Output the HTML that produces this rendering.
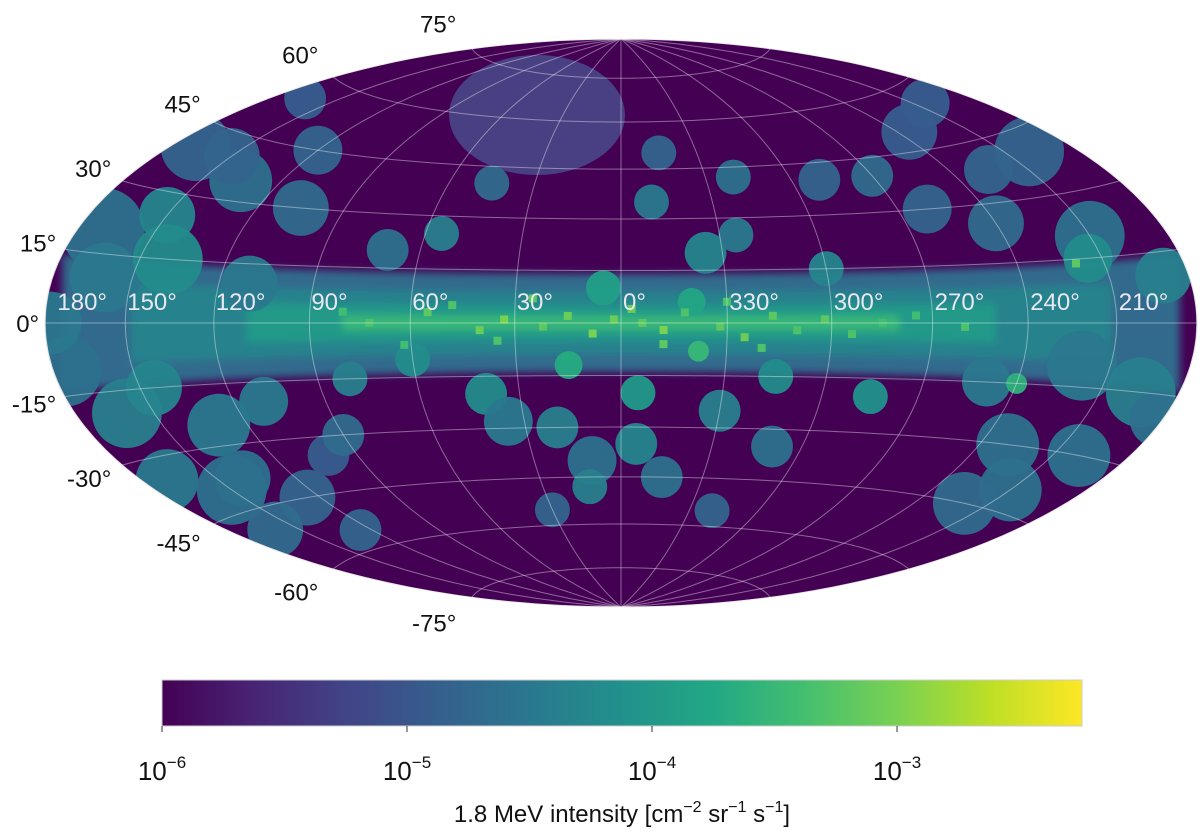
<!DOCTYPE html>
<html><head><meta charset="utf-8"><style>
body{margin:0;background:#fff;width:1200px;height:834px;overflow:hidden;font-family:"Liberation Sans",sans-serif}
</style></head><body>
<svg id="chart" width="1200" height="834" xmlns="http://www.w3.org/2000/svg" font-family="Liberation Sans, sans-serif">
<defs>
<clipPath id="clip"><ellipse cx="621" cy="323" rx="576" ry="284"/></clipPath>
<filter id="soft" x="-5%" y="-20%" width="110%" height="140%"><feGaussianBlur stdDeviation="4"/></filter>
<linearGradient id="vir" x1="0" x2="1" y1="0" y2="0">
<stop offset="0" stop-color="#440154"/><stop offset="0.1" stop-color="#482475"/><stop offset="0.2" stop-color="#414487"/><stop offset="0.3" stop-color="#355f8d"/><stop offset="0.4" stop-color="#2a788e"/><stop offset="0.5" stop-color="#21918c"/><stop offset="0.6" stop-color="#22a884"/><stop offset="0.7" stop-color="#44bf70"/><stop offset="0.8" stop-color="#7ad151"/><stop offset="0.9" stop-color="#bddf26"/><stop offset="1" stop-color="#fde725"/>
</linearGradient>
</defs>
<g id="map" clip-path="url(#clip)">
<ellipse cx="621" cy="323" rx="576" ry="284" fill="#440154"/>
<g id="bands" filter="url(#soft)"></g>
<ellipse cx="537" cy="115" rx="88" ry="60" fill="#4a4a8c" opacity="0.85"/>
<g id="blobs"></g>
<g id="specks"></g>
</g>
<ellipse cx="621" cy="323" rx="576" ry="284" fill="none" stroke="#ddd" stroke-width="1"/>
<g id="grid"></g>
<g id="lonlabels" font-size="24" fill="#e8e8f0"></g>
<g id="latlabels" font-size="24" fill="#111"></g>
<rect x="162" y="680" width="920" height="46" fill="url(#vir)" stroke="#ccc"/>
<g id="cbticks"></g>
<text x="622" y="822" font-size="24" text-anchor="middle" fill="#111">1.8 MeV intensity [cm<tspan dy="-10" font-size="16">−2</tspan><tspan dy="10"> sr</tspan><tspan dy="-10" font-size="16">−1</tspan><tspan dy="10"> s</tspan><tspan dy="-10" font-size="16">−1</tspan><tspan dy="10">]</tspan></text>
</svg>
<script>
const lonTicks=[180,150,120,90,60,30,0,-30,-60,-90,-120,-150];
const lonTickLabels=["180°","150°","120°","90°","60°","30°","0°","330°","300°","270°","240°","210°"];
const latTicks=[75,60,45,30,15,0,-15,-30,-45,-60,-75];
const cbTicks=[-6,-5,-4,-3];
// sources: longitude, latitude, radius (deg), log10 intensity
const srcLon=[170,160,150,140,135,150,170,175,160,145,130,150,170,125,110,105,110,120,165,100,
 5,40,20,10,-5,30,55,70,80,60,-15,-10,-25,-35,-30,-45,-50,-60,-75,-40,-70,-15,45,-20,
 -150,-160,-140,-165,-130,-150,-120,-110,-100,-170,-125,-120,-145,178,-178,90,-90,15,-22,
 160,140,125,-140,-160,-155,-135,35,-5,12,-40];
const srcLat=[20,10,25,15,35,40,40,-10,-20,-15,-25,-40,-35,-45,-20,30,10,45,55,-35,
 10,-20,-30,-40,-20,-55,25,20,-15,-10,-45,35,20,25,-25,-15,-35,15,-20,-55,40,50,40,6,
 20,40,-10,-15,-30,-40,25,-15,30,10,50,-15,15,0,-20,-30,40,-12,-8,
 -50,-38,-55,-45,-30,55,38,-28,-35,-48,42];
const srcR=[12,10,8,10,9,8,10,10,10,8,9,10,9,8,7,8,8,7,6,6,
 5,6,6,7,5,5,5,6,5,5,6,5,6,5,6,5,6,5,5,5,6,5,5,4,
 10,10,10,10,9,9,8,7,7,8,8,3,7,9,8,6,6,4,3,
 8,8,6,9,9,7,7,7,6,5,5];
const srcLog=[-4.6,-4.5,-4.3,-4.2,-4.6,-4.8,-4.8,-4.6,-4.4,-4.3,-4.5,-4.6,-4.5,-4.8,-4.5,-4.7,-4.5,-4.8,-4.9,-4.9,
 -3.9,-4.2,-4.4,-4.6,-4.0,-4.8,-4.4,-4.6,-4.4,-4.2,-4.6,-4.5,-4.3,-4.5,-4.4,-4.2,-4.6,-4.3,-4.1,-4.8,-4.8,-4.8,-4.7,-3.8,
 -4.6,-4.8,-4.5,-4.4,-4.6,-4.6,-4.7,-4.5,-4.8,-4.4,-4.9,-3.6,-4.2,-4.5,-4.6,-4.7,-4.7,-3.7,-3.5,
 -4.7,-4.6,-4.8,-4.7,-4.6,-4.9,-4.8,-4.5,-4.3,-4.4,-4.6];
const bandHalf=[14,9,5,2];
const bandExt=[180,150,110,80];
const bandLog=[-4.7,-4.35,-4.0,-3.5];
const ptLon=[72,55,40,33,22,15,8,2,-6,-12,-18,-28,-35,-43,-50,-58,-66,-75,-85,-100,-12,35,48,-40,25,-3,62,80,-30,-140];
const ptLat=[0,3,-2,1,-1,2,-3,1,0,-2,3,-1,-4,2,-2,1,-3,0,2,-1,-6,-5,5,-7,7,4,-6,3,6,14];
const ptLog=[-3.3,-3.2,-3.1,-3.0,-3.2,-3.1,-3.0,-3.1,-3.2,-3.0,-3.3,-3.2,-3.1,-3.2,-3.3,-3.2,-3.3,-3.4,-3.4,-3.3,-3.2,-3.3,-3.3,-3.3,-3.2,-3.1,-3.4,-3.4,-3.3,-3.2];

const CX=621,CY=323,SX=203.6,SY=201,D=Math.PI/180;
function proj(l,b){l*=D;b*=D;const z=Math.sqrt(1+Math.cos(b)*Math.cos(l/2));
 return [CX-SX*2*Math.SQRT2*Math.cos(b)*Math.sin(l/2)/z, CY-SY*Math.SQRT2*Math.sin(b)/z];}
const vir=["#440154","#482475","#414487","#355f8d","#2a788e","#21918c","#22a884","#44bf70","#7ad151","#bddf26","#fde725"];
function hex(c){return [1,3,5].map(i=>parseInt(c.substr(i,2),16));}
function color(lg){let t=(lg+6)/3.755;t=Math.max(0,Math.min(1,t))*10;const i=Math.min(9,Math.floor(t)),f=t-i;
 const a=hex(vir[i]),b=hex(vir[i+1]);return "rgb("+a.map((v,k)=>Math.round(v+(b[k]-v)*f)).join(",")+")";}
const NS="http://www.w3.org/2000/svg";
function mk(tag,attrs,parent){const e=document.createElementNS(NS,tag);for(const k in attrs)e.setAttribute(k,attrs[k]);parent.appendChild(e);return e;}
const bands=document.getElementById('bands');
bandHalf.forEach((h,i)=>{let pts=[];const E=bandExt[i];
 for(let l=-E;l<=E;l+=2)pts.push(proj(l,h));for(let l=E;l>=-E;l-=2)pts.push(proj(l,-h));
 const p=mk('polygon',{points:pts.map(q=>q.join(',')).join(' '),fill:color(bandLog[i])},bands);
 
 });
const blobs=document.getElementById('blobs');
srcLon.forEach((l,i)=>{const q=proj(l,srcLat[i]);
 const c=mk('circle',{cx:q[0],cy:q[1],r:srcR[i]*D*200,fill:color(srcLog[i]),opacity:0.95},blobs);
 
 });
const specks=document.getElementById('specks');
ptLon.forEach((l,i)=>{const q=proj(l,ptLat[i]);
 const r=mk('rect',{x:q[0]-4,y:q[1]-4,width:8,height:8,fill:color(ptLog[i])},specks);
 
 });
const grid=document.getElementById('grid');
for(let l=-180;l<=180;l+=30){let pts=[];for(let b=-90;b<=90;b+=3)pts.push(proj(l,b));
 const p=mk('polyline',{points:pts.map(q=>q.join(',')).join(' '),fill:'none',stroke:'rgba(255,255,255,0.4)','stroke-width':1},grid);
 
 }
for(let b=-75;b<=75;b+=15){let pts=[];for(let l=-180;l<=180;l+=3)pts.push(proj(l,b));
 const p=mk('polyline',{points:pts.map(q=>q.join(',')).join(' '),fill:'none',stroke:'rgba(255,255,255,0.4)','stroke-width':1},grid);
 
 }
const ll=document.getElementById('lonlabels');
lonTicks.forEach((l,i)=>{const q=proj(l===180?179.9:l,0);const x=l===180?q[0]+12:q[0]+2;
 const t=mk('text',{x:x,y:310},ll);t.textContent=lonTickLabels[i];
 
 });
const la=document.getElementById('latlabels');
latTicks.forEach(b=>{const q=proj(179.99,b);const s=Math.sin(b*D);
 const t=mk('text',{x:q[0]-6-10*Math.abs(s),y:q[1]+9-26*s,'text-anchor':'end'},la);t.textContent=b+"°";
 
 });
const cb=document.getElementById('cbticks');
cbTicks.forEach(v=>{const x=162+(v+6)/3.755*920;
 const ln=mk('line',{x1:x,x2:x,y1:726,y2:732,stroke:'#333'},cb);
 
 
 const t=mk('text',{x:x,y:780,'font-size':26,'text-anchor':'middle',fill:'#111'},cb);
 t.innerHTML='10<tspan dy="-12" font-size="17">−'+(-v)+'</tspan>';
 
 });
</script>
</body></html>
